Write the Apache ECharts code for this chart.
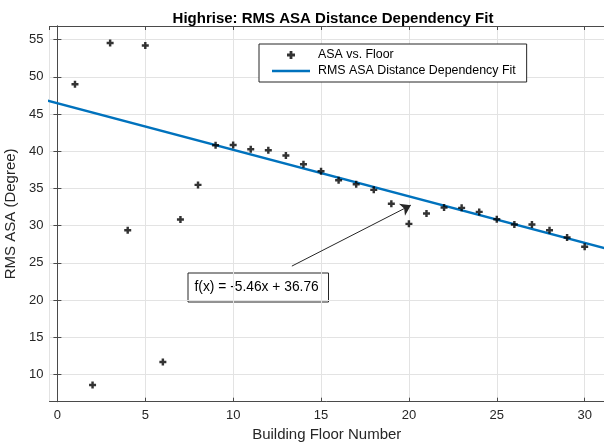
<!DOCTYPE html>
<html><head><meta charset="utf-8">
<script src="https://cdn.jsdelivr.net/npm/echarts@6/dist/echarts.min.js"></script>
<style>html,body{margin:0;padding:0;background:#fff}#c{width:604px;height:446px}</style>
</head><body><div id="c"></div>
<script>
// ---- data ----
const floors = [1,2,3,4,5,6,7,8,9,10,11,12,13,14,15,16,17,18,19,20,21,22,23,24,25,26,27,28,29,30];
const rmsAsa = [49.0,8.56,54.55,29.38,54.2,11.65,30.82,35.47,40.8,40.84,40.26,40.13,39.42,38.25,37.31,36.1,35.56,34.8,32.92,30.23,31.63,32.43,32.38,31.84,30.86,30.15,30.15,29.38,28.4,27.14];
const fitX = [-1, 32];
const fitY = [47.08, 26.42];
const xRange = [-0.45, 31.1];
const yRange = [6.32, 56.83];
const titleText = 'Highrise: RMS ASA Distance Dependency Fit';
const xName = 'Building Floor Number';
const yName = 'RMS ASA (Degree)';
const scatterName = 'ASA vs. Floor';
const fitName = 'RMS ASA Distance Dependency Fit';
const fitLabel = 'f(x) = -5.46x + 36.76';
const arrowFrom = [13.34, 24.55];
const arrowTo = [20.11, 32.74];

const FONT = '"Liberation Sans", Arial, sans-serif';
const AX = '#4a4a4a';
const TXT = '#262626';
const GRIDC = '#e3e3e3';
const plusPath = 'path://M2.6,0H5.4V2.6H8V5.4H5.4V8H2.6V5.4H0V2.6H2.6Z';
const linePath = 'path://M0,0H40V2.6H0Z';

const scatterData = floors.map((f, i) => [f, rmsAsa[i]]);
const fitData = fitX.map((x, i) => [x, fitY[i]]);

const chart = echarts.init(document.getElementById('c'), null, {renderer: 'canvas'});

const baseX = {
  type: 'value', min: xRange[0], max: xRange[1], splitNumber: 6,
  axisLine: {show: true, lineStyle: {color: AX, width: 1}},
  axisTick: {show: true, inside: true, length: 4, lineStyle: {color: AX}},
};
const baseY = {
  type: 'value', min: yRange[0], max: yRange[1], splitNumber: 10,
  axisLine: {show: true, lineStyle: {color: AX, width: 1}},
  axisTick: {show: true, inside: true, length: 4, lineStyle: {color: AX}},
};

chart.setOption({
  animation: false,
  backgroundColor: '#fff',
  title: {
    text: titleText, left: 328, top: 6, textAlign: 'center',
    textStyle: {fontFamily: FONT, fontSize: 15, fontWeight: 'bold', color: '#000'}
  },
  grid: {left: 49.5, top: 26, right: 0, bottom: 44.3, containLabel: false, outerBoundsMode: 'none'},
  legend: {
    orient: 'vertical', left: 259, top: 44,
    padding: [5, 11, 5, 13], itemGap: 4, itemWidth: 38, itemHeight: 8,
    backgroundColor: '#fff', borderColor: TXT, borderWidth: 1, borderRadius: 0,
    textStyle: {fontFamily: FONT, fontSize: 12.4, color: '#000', padding: [0, 0, 0, 3]},
    data: [{name: scatterName, icon: plusPath}, {name: fitName, icon: linePath}]
  },
  xAxis: [
    Object.assign({}, baseX, {
      position: 'bottom',
      name: xName, nameLocation: 'middle', nameGap: 26,
      nameTextStyle: {fontFamily: FONT, fontSize: 15, color: TXT},
      axisLabel: {show: true, margin: 7, fontFamily: FONT, fontSize: 13, color: TXT, showMinLabel: false, showMaxLabel: false},
      splitLine: {show: true, lineStyle: {color: GRIDC, width: 1}}
    }),
    Object.assign({}, baseX, {
      position: 'top', axisLabel: {show: false}, splitLine: {show: false}
    })
  ],
  yAxis: [
    Object.assign({}, baseY, {
      position: 'left',
      name: yName, nameLocation: 'middle', nameGap: 28,
      nameTextStyle: {fontFamily: FONT, fontSize: 15, color: TXT},
      axisLabel: {show: true, margin: 6, fontFamily: FONT, fontSize: 13, color: TXT, showMinLabel: false, showMaxLabel: false},
      splitLine: {show: true, lineStyle: {color: GRIDC, width: 1}}
    }),
    Object.assign({}, baseY, {
      position: 'right', axisLabel: {show: false}, splitLine: {show: false}
    })
  ],
  series: [
    {
      name: scatterName, type: 'scatter', data: scatterData,
      symbol: plusPath, symbolSize: 7, z: 3,
      itemStyle: {color: '#000'}, silent: true
    },
    {
      name: fitName, type: 'line', data: fitData,
      symbol: 'none', showSymbol: false, clip: true, z: 2,
      lineStyle: {color: '#0072BD', width: 2.5}, itemStyle: {color: '#0072BD'},
      silent: true,
      markLine: {
        silent: true, symbol: ['none', 'arrow'], symbolSize: 10, precision: 4,
        label: {show: false},
        lineStyle: {color: TXT, width: 1, type: 'solid'},
        emphasis: {disabled: true},
        data: [[{coord: arrowFrom}, {coord: arrowTo}]]
      }
    }
  ],
  graphic: [
    {
      type: 'group', left: 187.5, top: 272.5, z: 100,
      children: [
        {type: 'rect', shape: {x: 0, y: 0, width: 140.5, height: 29},
         style: {fill: '#fff', stroke: TXT, lineWidth: 1}},
        {type: 'text', x: 6.5, y: 14.5,
         style: {text: fitLabel, fontFamily: FONT, fontSize: 13.8, fill: '#000', verticalAlign: 'middle'}}
      ]
    }
  ]
});
</script>
</body></html>
